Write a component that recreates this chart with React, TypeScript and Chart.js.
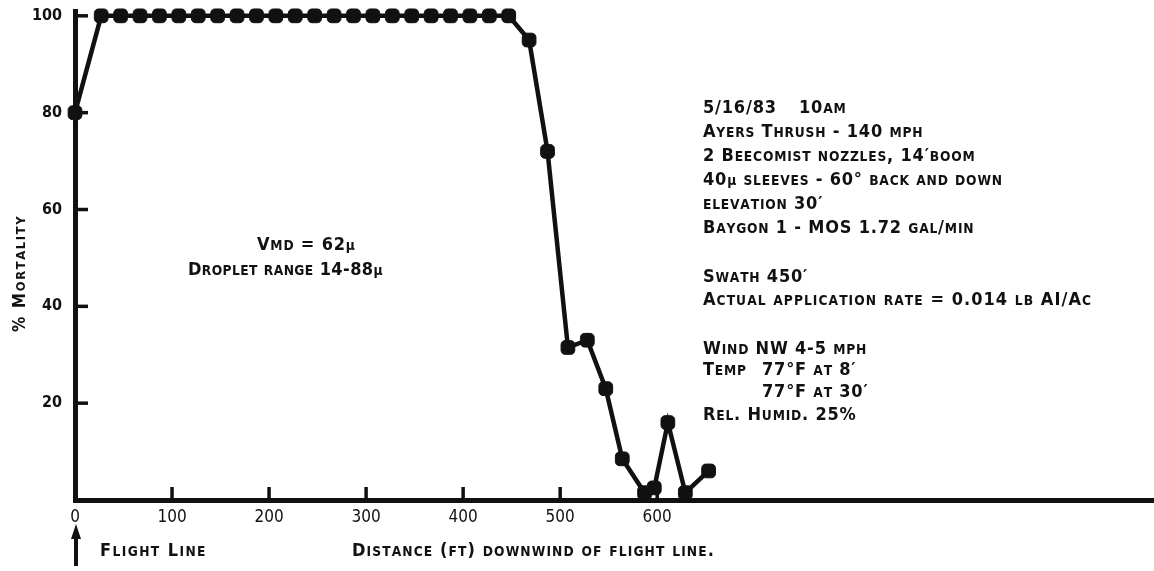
import React, { useEffect, useRef } from "react";
import { Chart, registerables } from "chart.js";

Chart.register(...registerables);

// Distance downwind of flight line (ft)
const distanceFt = [
  0, 27, 47, 67, 87, 107, 127, 147, 167, 187, 207, 227, 247, 267, 287, 307,
  327, 347, 367, 387, 407, 427, 447, 468, 487, 508, 528, 547, 564, 587, 597,
  611, 629, 653,
];
// % Mortality
const mortalityPct = [
  80, 100, 100, 100, 100, 100, 100, 100, 100, 100, 100, 100, 100, 100, 100,
  100, 100, 100, 100, 100, 100, 100, 100, 95, 72, 31.5, 33, 23, 8.5, 1.5, 2.5,
  16, 1.5, 6,
];
const xTickValues = [0, 100, 200, 300, 400, 500, 600];
const yTickValues = [20, 40, 60, 80, 100];

const notesLines = [
  "Ayers Thrush - 140 mph",
  "2 Beecomist nozzles, 14′boom",
  "40µ sleeves - 60° back and down",
  "elevation 30′",
  "Baygon 1 - MOS 1.72 gal/min",
];

const INK = "#111";
const FAMILY = "'DejaVu Sans Condensed', 'DejaVu Sans', sans-serif";

// lettering-guide style small caps: lowercase drawn as smaller capitals
function drawSC(
  ctx: CanvasRenderingContext2D,
  text: string,
  x: number,
  y: number,
  size: number,
  spacing = 0.8,
  ratio = 0.76
) {
  let cx = x;
  for (const ch of Array.from(text)) {
    const isMu = ch === "µ";
    const isLower = !isMu && ch !== ch.toUpperCase();
    const s = isLower || isMu ? size * ratio : size;
    ctx.font = `bold ${s}px ${FAMILY}`;
    const g = isLower ? ch.toUpperCase() : ch;
    ctx.fillText(g, cx, y);
    cx += ctx.measureText(g).width + spacing;
  }
  return cx;
}

const annotationsPlugin = {
  id: "annotations",
  afterDraw(chart: any) {
    const ctx = chart.ctx as CanvasRenderingContext2D;
    const xs = chart.scales.x;
    const ys = chart.scales.y;
    const area = chart.chartArea;
    ctx.save();
    ctx.strokeStyle = INK;
    ctx.fillStyle = INK;
    ctx.lineCap = "butt";

    // inward tick marks
    ctx.lineWidth = 3.5;
    for (const v of yTickValues) {
      const py = ys.getPixelForValue(v);
      ctx.beginPath();
      ctx.moveTo(area.left, py);
      ctx.lineTo(area.left + 13, py);
      ctx.stroke();
    }
    for (const v of xTickValues) {
      if (v === 0) continue;
      const px = xs.getPixelForValue(v);
      ctx.beginPath();
      ctx.moveTo(px, area.bottom);
      ctx.lineTo(px, area.bottom - 13);
      ctx.stroke();
    }

    // text
    ctx.textBaseline = "alphabetic";
    ctx.textAlign = "left";
    const S = 18;
    drawSC(ctx, "5/16/83", 703, 113, S);
    drawSC(ctx, "10am", 799, 113, S);
    const base = [137, 161, 185, 209, 233];
    notesLines.forEach((t, i) => drawSC(ctx, t, 703, base[i], S));
    drawSC(ctx, "Swath 450′", 703, 282, S);
    drawSC(ctx, "Actual application rate = 0.014 lb AI/Ac", 703, 305, S, 1.05);
    drawSC(ctx, "Wind NW 4-5 mph", 703, 354, S);
    drawSC(ctx, "Temp", 703, 375, S);
    drawSC(ctx, "77°F at 8′", 762, 375, S);
    drawSC(ctx, "77°F at 30′", 762, 397, S);
    drawSC(ctx, "Rel. Humid. 25%", 703, 420, S);

    drawSC(ctx, "Vmd = 62µ", 257, 250, S);
    drawSC(ctx, "Droplet range 14-88µ", 188, 275, S, 0.4);

    drawSC(ctx, "Flight Line", 100, 556, S, 1.4);
    drawSC(ctx, "Distance (ft) downwind of flight line.", 352, 556, S, 1.1);

    // y title
    ctx.save();
    ctx.translate(25, 332);
    ctx.rotate(-Math.PI / 2);
    drawSC(ctx, "% Mortality", 0, 0, 17, 1.6);
    ctx.restore();

    // flight line arrow
    const ax = xs.getPixelForValue(0) + 1;
    ctx.lineWidth = 4;
    ctx.beginPath();
    ctx.moveTo(ax, 566);
    ctx.lineTo(ax, 534);
    ctx.stroke();
    ctx.beginPath();
    ctx.moveTo(ax, 524);
    ctx.lineTo(ax - 5, 539);
    ctx.lineTo(ax + 5, 539);
    ctx.closePath();
    ctx.fill();

    ctx.restore();
  },
};

function zeroPad(s: any) {
  s.paddingLeft = 0;
  s.paddingRight = 0;
  s.paddingTop = 0;
  s.paddingBottom = 0;
}

export default function App() {
  const ref = useRef<HTMLCanvasElement | null>(null);

  useEffect(() => {
    document.body.style.margin = "0";
    document.body.style.background = "#fff";
    const canvas = ref.current;
    if (!canvas) return;
    const chart = new Chart(canvas, {
      type: "line",
      data: {
        datasets: [
          {
            data: distanceFt.map((x, i) => ({ x, y: mortalityPct[i] })),
            borderColor: INK,
            backgroundColor: INK,
            borderWidth: 4.5,
            pointStyle: "rectRounded",
            pointRadius: 8,
            pointBackgroundColor: INK,
            pointBorderColor: INK,
            pointBorderWidth: 1,
            tension: 0,
            clip: false as any,
          },
        ],
      },
      options: {
        responsive: false,
        maintainAspectRatio: false,
        animation: false,
        devicePixelRatio: 1,
        layout: { autoPadding: false, padding: { top: 11, left: 0, right: 0, bottom: 0 } },
        plugins: { legend: { display: false }, tooltip: { enabled: false } },
        scales: {
          x: {
            type: "linear",
            min: 0,
            max: 1112,
            afterFit: (s: any) => {
              s.height = 71;
              zeroPad(s);
            },
            afterBuildTicks: (s: any) => {
              s.ticks = xTickValues.map((v) => ({ value: v }));
            },
            grid: { display: true, drawOnChartArea: false, drawTicks: false, color: "rgba(0,0,0,0)" },
            border: { display: true, color: INK, width: 5 },
            ticks: {
              color: INK,
              font: { family: FAMILY, size: 17 },
              padding: 7,
              maxRotation: 0,
              autoSkip: false,
            },
          },
          y: {
            type: "linear",
            min: 0,
            max: 101,
            afterFit: (s: any) => {
              s.width = 75;
              zeroPad(s);
            },
            afterBuildTicks: (s: any) => {
              s.ticks = yTickValues.map((v) => ({ value: v }));
            },
            grid: { display: true, drawOnChartArea: false, drawTicks: false, color: "rgba(0,0,0,0)" },
            border: { display: true, color: INK, width: 5 },
            ticks: {
              color: INK,
              font: { family: FAMILY, size: 16, weight: "bold" },
              padding: 13,
              autoSkip: false,
            },
          },
        },
      },
      plugins: [annotationsPlugin],
    });
    return () => chart.destroy();
  }, []);

  return (
    <div style={{ width: 1154, height: 571, position: "relative" }}>
      <canvas ref={ref} width={1154} height={571} />
    </div>
  );
}
